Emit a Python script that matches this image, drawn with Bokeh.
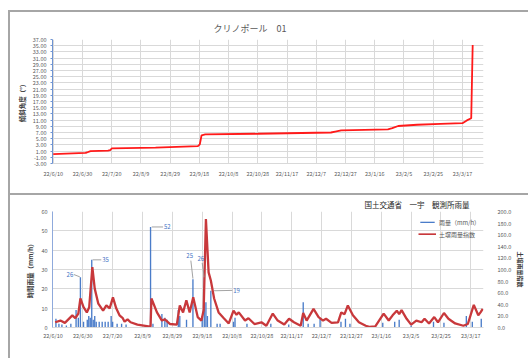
import pandas as pd
from bokeh.plotting import figure
from bokeh.models import (Range1d, LinearAxis, FixedTicker, Legend, LegendItem,
                          ColumnDataSource, PrintfTickFormatter)
from bokeh.layouts import column
from bokeh.embed import file_html
from bokeh.resources import INLINE

# ---------------- data ----------------
START = pd.Timestamp("2022-06-10")

tick_dates = ["2022-06-10", "2022-06-30", "2022-07-20", "2022-08-09", "2022-08-29",
              "2022-09-18", "2022-10-08", "2022-10-28", "2022-11-17", "2022-12-07",
              "2022-12-27", "2023-01-16", "2023-02-05", "2023-02-25", "2023-03-17"]
tick_labels = ["22/6/10", "22/6/30", "22/7/20", "22/8/9", "22/8/29", "22/9/18", "22/10/8",
               "22/10/28", "22/11/17", "22/12/7", "22/12/27", "23/1/16", "23/2/5",
               "23/2/25", "23/3/17"]

# clinometer tilt (days since START, degrees)
tilt_day = [0, 22, 23, 25.5, 37.5, 39, 40, 70, 99, 100.3, 101.5, 104, 140, 190, 193,
            197, 229, 232, 236, 249, 265, 280, 283, 286, 287]
tilt_deg = [0.0, 0.45, 0.55, 1.0, 1.15, 1.3, 1.85, 2.15, 2.6, 3.2, 6.1, 6.4, 6.6, 7.0, 7.3,
            7.7, 8.0, 8.4, 9.1, 9.5, 9.8, 10.0, 10.9, 11.6, 35.2]

# hourly rainfall bars (days since START, mm/h)
rain_day = [2, 4, 6, 9, 12, 15.5, 17, 18.4, 20.5, 23, 24, 25, 26, 27, 28, 29, 31, 33, 35,
            37, 39, 40, 43, 46, 49, 65.4, 67, 73, 75, 76.5, 84, 85, 89.5, 93.8, 100, 101.4,
            102.5, 103.5, 105.8, 110, 112, 121, 122, 130, 146, 158, 167.7, 171, 175, 179,
            193, 196, 199, 221, 229, 232, 240, 255, 262, 277, 281, 287]
rain_mm = [4.5, 2, 1.5, 1, 2, 9, 5, 26, 3, 4, 6, 5, 35, 4, 6, 3, 3, 3, 3,
           3, 6, 3, 2, 2, 1.5, 52, 2, 7, 5, 4, 9, 6, 4, 25, 6, 26,
           13, 6, 19, 2, 2, 3, 5, 2, 2, 1.5, 13, 2, 2, 4.5,
           3, 4.5, 2, 2.5, 3, 4, 1, 3, 2.5, 6, 3, 4.5]

# soil water index (days since START, index)
soil_day = [1.5, 5, 8, 13, 15, 17, 18.4, 20.5, 22.7, 24.3, 26.4, 28, 30.4, 33.6, 35.8, 38,
            40.2, 42.4, 44.6, 46.8, 48, 50, 52, 56.6, 64, 65.4, 66, 69.7, 73, 75, 78.5, 83,
            85, 87.2, 89.4, 91.6, 94, 97, 99.5, 101, 102.5, 104.3, 105.8, 108, 111, 114.5,
            117.8, 121, 123, 124.5, 128.7, 131, 135, 139.7, 143, 147.3, 150.6, 155, 158.2,
            161.5, 166, 167.7, 170, 174.6, 178, 181, 183, 186.7, 191, 193.2, 195.4, 197.6,
            201, 205, 209.6, 212, 216, 221.6, 225, 227.6, 230.4, 232, 233.6, 237, 240,
            243.5, 247, 249, 252, 255.5, 258, 262, 265, 269.5, 275, 278, 282, 285, 286.5, 288]
soil_idx = [9, 12, 8, 21, 16, 24, 50, 35, 26, 35, 104, 67, 41, 29, 38, 33,
            52, 33, 21, 16, 10, 14, 9, 5, 2, 2, 50, 26, 12, 14, 6, 5,
            38, 26, 47, 26, 52, 18, 12, 30, 187, 95, 81, 50, 26, 16,
            7, 29, 22, 26, 12, 16, 6, 9, 3, 24, 12, 5, 15,
            9, 3, 25, 12, 32, 18, 12, 15, 8, 9, 26, 23, 38,
            21, 9, 3, 1, 2, 24, 12, 21, 29, 23, 30, 15, 5,
            12, 9, 15, 7, 18, 9, 25, 15, 7, 3, 6, 39, 21, 26, 32]


def dt(days):
    return START + pd.to_timedelta(days, unit="D")


tick_ms = [pd.Timestamp(s).value / 1e6 for s in tick_dates]
overrides = dict(zip(tick_ms, tick_labels))

FONT = "Noto Sans CJK JP"
GRID = "#D9D9D9"
TXT = "#595959"

# ---------------- top chart ----------------
p1 = figure(width=528, height=193, x_axis_type="datetime", output_backend="svg",
            toolbar_location=None, x_range=Range1d(dt(-0.5), dt(294.4)),
            y_range=Range1d(-3, 37), min_border_left=52, min_border_right=29,
            min_border_top=39, min_border_bottom=30)
p1.border_fill_alpha = 0
p1.outline_line_color = None
p1.styles = {"box-shadow": "inset 8px 10px 0 0 #FFFFFF, inset 10px 12px 0 0 #A6A6A6"}
p1.title.text = "クリノポール　01"
p1.title.align = "left"
p1.title.offset = 161
p1.title.text_font = FONT
p1.title.text_font_size = "9px"
p1.title.text_font_style = "normal"
p1.title.text_color = TXT

p1.line(dt(tilt_day), tilt_deg, line_color="#FF1A1A", line_width=1.8)

ya = p1.yaxis[0]
ya.ticker = FixedTicker(ticks=list(range(-3, 38, 2)))
ya.formatter = PrintfTickFormatter(format="%.2f")
ya.axis_line_color = "#6F94D2"
ya.major_tick_line_color = "#6F94D2"
ya.major_tick_out = 2
ya.major_tick_in = 0
ya.minor_tick_line_color = None
ya.minor_tick_out = 0
ya.major_label_text_font = FONT
ya.major_label_text_font_size = "5.5px"
ya.major_label_text_color = TXT
ya.major_label_standoff = 4
ya.axis_label = "傾斜角度（°）"
ya.axis_label_text_font = FONT
ya.axis_label_text_font_size = "6.5px"
ya.axis_label_text_font_style = "bold"
ya.axis_label_text_color = "#404040"
ya.axis_label_standoff = 3

xa = p1.xaxis[0]
xa.ticker = FixedTicker(ticks=tick_ms)
xa.major_label_overrides = overrides
xa.axis_line_color = GRID
xa.major_tick_line_color = None
xa.major_tick_out = 0
xa.minor_tick_line_color = None
xa.minor_tick_out = 0
xa.major_label_text_font = FONT
xa.major_label_text_font_size = "5.5px"
xa.major_label_text_color = TXT
xa.major_label_standoff = 6

p1.xgrid.ticker = FixedTicker(ticks=tick_ms)
p1.xgrid.grid_line_color = GRID
p1.ygrid.grid_line_color = GRID

# ---------------- bottom chart ----------------
p2 = figure(width=528, height=165, x_axis_type="datetime", output_backend="svg",
            toolbar_location=None, x_range=Range1d(dt(-0.3), dt(288.5)),
            y_range=Range1d(0, 60), min_border_left=52, min_border_right=36,
            min_border_top=18, min_border_bottom=31)
p2.border_fill_alpha = 0
p2.outline_line_color = None
p2.styles = {"box-shadow": "inset 8px 0px 0 0 #FFFFFF, inset 10px 2px 0 0 #A6A6A6"}
p2.extra_y_ranges = {"soil": Range1d(0, 200)}
p2.title.text = "国土交通省　一宇　観測所雨量"
p2.title.align = "left"
p2.title.offset = 312
p2.title.standoff = 3
p2.title.text_font = FONT
p2.title.text_font_size = "7.5px"
p2.title.text_font_style = "normal"
p2.title.text_color = "#262626"

BLUE = "#4A7CC9"
RED = "#C8383B"
bars = p2.vbar(x=dt(rain_day), top=rain_mm, width=0.9 * 86400000, fill_color=BLUE,
               line_color=None)
soil = p2.line(dt(soil_day), soil_idx, y_range_name="soil", line_color=RED, line_width=2.3)

# data labels for the larger bars
lab_idx = [i for i, v in enumerate(rain_mm) if v >= 19]
lab_dx = [-4.8, 7.0, 9.0, -2.2, -2.3, 15.0]
lab_dy = [1.4, 0.0, 0.0, 12.3, 9.8, 0.2]
lab_align = ["right", "left", "left", "center", "center", "left"]
lead_x0 = [-0.4, 0.6, 0.8, 0.0, 0.0, 2.0]
lead_y0 = [0.2, 0.0, 0.0, 0.3, 0.0, 0.0]
lead_x1 = [-4.4, 6.4, 8.4, -1.4, -1.4, 14.4]
lead_y1 = [1.4, 0.0, 0.0, 9.6, 7.4, 0.2]
lab_src = ColumnDataSource(dict(
    x=[dt(rain_day[i] + lab_dx[k]) for k, i in enumerate(lab_idx)],
    y=[rain_mm[i] + lab_dy[k] for k, i in enumerate(lab_idx)],
    t=[str(int(rain_mm[i])) for i in lab_idx],
    a=lab_align,
    x0=[dt(rain_day[i] + lead_x0[k]) for k, i in enumerate(lab_idx)],
    y0=[rain_mm[i] + lead_y0[k] for k, i in enumerate(lab_idx)],
    x1=[dt(rain_day[i] + lead_x1[k]) for k, i in enumerate(lab_idx)],
    y1=[rain_mm[i] + lead_y1[k] for k, i in enumerate(lab_idx)],
))
p2.segment("x0", "y0", "x1", "y1", source=lab_src, line_color="#8C8C8C", line_width=0.8)
p2.text("x", "y", text="t", source=lab_src, text_align="a", text_baseline="middle",
        text_font_size="6px", text_color="#4472C4", text_font={"value": FONT})

la = p2.yaxis[0]
la.ticker = FixedTicker(ticks=list(range(0, 61, 10)))
la.axis_line_color = "#8FAADC"
la.major_tick_line_color = None
la.major_tick_out = 0
la.minor_tick_line_color = None
la.minor_tick_out = 0
la.major_label_text_font = FONT
la.major_label_text_font_size = "5.5px"
la.major_label_text_color = TXT
la.major_label_standoff = 5
la.axis_label = "時間雨量（mm/h）"
la.axis_label_text_font = FONT
la.axis_label_text_font_size = "6.5px"
la.axis_label_text_font_style = "bold"
la.axis_label_text_color = "#404040"
la.axis_label_standoff = 3

ra = LinearAxis(y_range_name="soil", ticker=FixedTicker(ticks=list(range(0, 201, 20))),
                formatter=PrintfTickFormatter(format="%.1f"))
ra.axis_line_color = None
ra.major_tick_line_color = None
ra.major_tick_out = 0
ra.minor_tick_line_color = None
ra.minor_tick_out = 0
ra.major_label_text_font = FONT
ra.major_label_text_font_size = "5.5px"
ra.major_label_text_color = TXT
ra.major_label_standoff = 14
ra.axis_label = "土壌雨量指数"
ra.axis_label_text_font = FONT
ra.axis_label_text_font_size = "6px"
ra.axis_label_text_font_style = "bold"
ra.axis_label_text_color = "#404040"
ra.axis_label_standoff = 2
p2.add_layout(ra, "right")

xb = p2.xaxis[0]
xb.ticker = FixedTicker(ticks=tick_ms)
xb.major_label_overrides = overrides
xb.axis_line_color = GRID
xb.major_tick_line_color = None
xb.major_tick_out = 0
xb.minor_tick_line_color = None
xb.minor_tick_out = 0
xb.major_label_text_font = FONT
xb.major_label_text_font_size = "5.5px"
xb.major_label_text_color = TXT
xb.major_label_standoff = 4

p2.xgrid.ticker = FixedTicker(ticks=tick_ms)
p2.xgrid.grid_line_color = GRID
p2.ygrid.grid_line_color = GRID

legend = Legend(items=[LegendItem(label="雨量（mm/h）", renderers=[bars]),
                       LegendItem(label="土壌雨量指数", renderers=[soil])],
                location=(366, 88), orientation="vertical")
legend.background_fill_alpha = 0
legend.border_line_color = None
legend.label_text_font = FONT
legend.label_text_font_size = "6px"
legend.label_text_color = TXT
legend.glyph_width = 18
legend.glyph_height = 2
legend.label_height = 10
legend.label_standoff = 3
legend.spacing = 2
legend.padding = 4
legend.margin = 0
p2.add_layout(legend)

layout = column(p1, p2)
open("out.html", "w").write(file_html(layout, INLINE))
